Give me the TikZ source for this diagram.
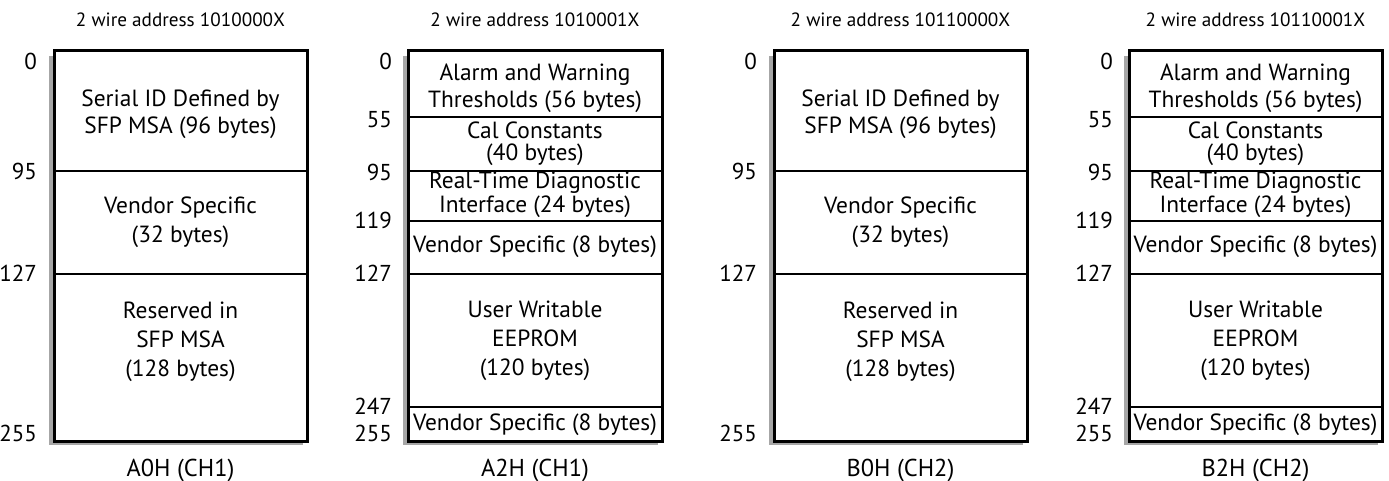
\documentclass[tikz,border=0pt]{standalone}
\usepackage{fontspec}
\setmainfont{PT Sans}
\begin{document}
\begin{tikzpicture}[x=0.5pt, y=-0.5pt,
    box/.style={draw, line width=1.5pt, fill=white},
    boxshadow/.style={fill=black!35},
    divider/.style={line width=1.4pt},
    region/.style={align=center, font=\fontsize{11.7}{13.5}\selectfont},
    offset/.style={anchor=east, font=\fontsize{11.5}{13}\selectfont},
    addr/.style={font=\fontsize{9.6}{11}\selectfont},
    chip/.style={font=\fontsize{12.2}{14}\selectfont}]
    \useasboundingbox (0,0) rectangle (1389,481);

    % A0H, serial ID page
    \fill[boxshadow] (49,56) rectangle (303,445);
    \draw[box] (54,51) rectangle (307,441);
    \draw[divider] (54,171) -- (307,171);
    \draw[divider] (54,274) -- (307,274);
    \node[addr] (a0addr) at (180.5,20) {2 wire address 1010000X};
    \node[region] (a0id) at (180.5,114) {Serial ID Defined by\\SFP MSA (96 bytes)};
    \node[region, font=\fontsize{11.7}{14.5}\selectfont] (a0vend) at (180.5,222) {Vendor Specific\\(32 bytes)};
    \node[region, font=\fontsize{11.7}{14.5}\selectfont] (a0res) at (180.5,342) {Reserved in\\SFP MSA\\(128 bytes)};
    \node[chip] (a0name) at (180.5,470) {A0H (CH1)};
    \node[offset] (a0o0) at (44,61) {0};
    \node[offset] (a0o95) at (44,171) {95};
    \node[offset] (a0o127) at (44,273) {127};
    \node[offset] (a0o255) at (44,433) {255};

    % A2H, diagnostics page
    \fill[boxshadow] (403,56) rectangle (658,445);
    \draw[box] (408,51) rectangle (662,441);
    \draw[divider] (408,117) -- (662,117);
    \draw[divider] (408,171) -- (662,171);
    \draw[divider] (408,221) -- (662,221);
    \draw[divider] (408,274) -- (662,274);
    \draw[divider] (408,407) -- (662,407);
    \node[addr] (a2addr) at (535,20) {2 wire address 1010001X};
    \node[region] (a2alarm) at (535,88) {Alarm and Warning\\Thresholds (56 bytes)};
    \node[region, font=\fontsize{11.7}{11}\selectfont] (a2cal) at (535,144) {Cal Constants\\(40 bytes)};
    \node[region, font=\fontsize{11.7}{10.8}\selectfont] (a2diag) at (535,195) {Real-Time Diagnostic\\Interface (24 bytes)};
    \node[region] (a2vend) at (535,247) {Vendor Specific (8 bytes)};
    \node[region, font=\fontsize{11.7}{14.5}\selectfont] (a2user) at (535,341) {User Writable\\EEPROM\\(120 bytes)};
    \node[region] (a2vendb) at (535,425) {Vendor Specific (8 bytes)};
    \node[chip] (a2name) at (535,470) {A2H (CH1)};
    \node[offset] (a2o0) at (399,61) {0};
    \node[offset] (a2o55) at (399,120) {55};
    \node[offset] (a2o95) at (399,172) {95};
    \node[offset] (a2o119) at (399,220) {119};
    \node[offset] (a2o127) at (399,273) {127};
    \node[offset] (a2o247) at (399,406) {247};
    \node[offset] (a2o255) at (399,433) {255};

    % B0H, serial ID page
    \fill[boxshadow] (769,56) rectangle (1023,445);
    \draw[box] (774,51) rectangle (1027,441);
    \draw[divider] (774,171) -- (1027,171);
    \draw[divider] (774,274) -- (1027,274);
    \node[addr] (b0addr) at (900.5,20) {2 wire address 10110000X};
    \node[region] (b0id) at (900.5,114) {Serial ID Defined by\\SFP MSA (96 bytes)};
    \node[region, font=\fontsize{11.7}{14.5}\selectfont] (b0vend) at (900.5,222) {Vendor Specific\\(32 bytes)};
    \node[region, font=\fontsize{11.7}{14.5}\selectfont] (b0res) at (900.5,342) {Reserved in\\SFP MSA\\(128 bytes)};
    \node[chip] (b0name) at (900.5,470) {B0H (CH2)};
    \node[offset] (b0o0) at (764,61) {0};
    \node[offset] (b0o95) at (764,171) {95};
    \node[offset] (b0o127) at (764,273) {127};
    \node[offset] (b0o255) at (764,433) {255};

    % B2H, diagnostics page
    \fill[boxshadow] (1124,56) rectangle (1378,445);
    \draw[box] (1129,51) rectangle (1382,441);
    \draw[divider] (1129,117) -- (1382,117);
    \draw[divider] (1129,171) -- (1382,171);
    \draw[divider] (1129,221) -- (1382,221);
    \draw[divider] (1129,274) -- (1382,274);
    \draw[divider] (1129,407) -- (1382,407);
    \node[addr] (b2addr) at (1255.5,20) {2 wire address 10110001X};
    \node[region] (b2alarm) at (1255.5,88) {Alarm and Warning\\Thresholds (56 bytes)};
    \node[region, font=\fontsize{11.7}{11}\selectfont] (b2cal) at (1255.5,144) {Cal Constants\\(40 bytes)};
    \node[region, font=\fontsize{11.7}{10.8}\selectfont] (b2diag) at (1255.5,195) {Real-Time Diagnostic\\Interface (24 bytes)};
    \node[region] (b2vend) at (1255.5,247) {Vendor Specific (8 bytes)};
    \node[region, font=\fontsize{11.7}{14.5}\selectfont] (b2user) at (1255.5,341) {User Writable\\EEPROM\\(120 bytes)};
    \node[region] (b2vendb) at (1255.5,425) {Vendor Specific (8 bytes)};
    \node[chip] (b2name) at (1255.5,470) {B2H (CH2)};
    \node[offset] (b2o0) at (1120,61) {0};
    \node[offset] (b2o55) at (1120,120) {55};
    \node[offset] (b2o95) at (1120,172) {95};
    \node[offset] (b2o119) at (1120,220) {119};
    \node[offset] (b2o127) at (1120,273) {127};
    \node[offset] (b2o247) at (1120,406) {247};
    \node[offset] (b2o255) at (1120,433) {255};
\end{tikzpicture}
\end{document}
